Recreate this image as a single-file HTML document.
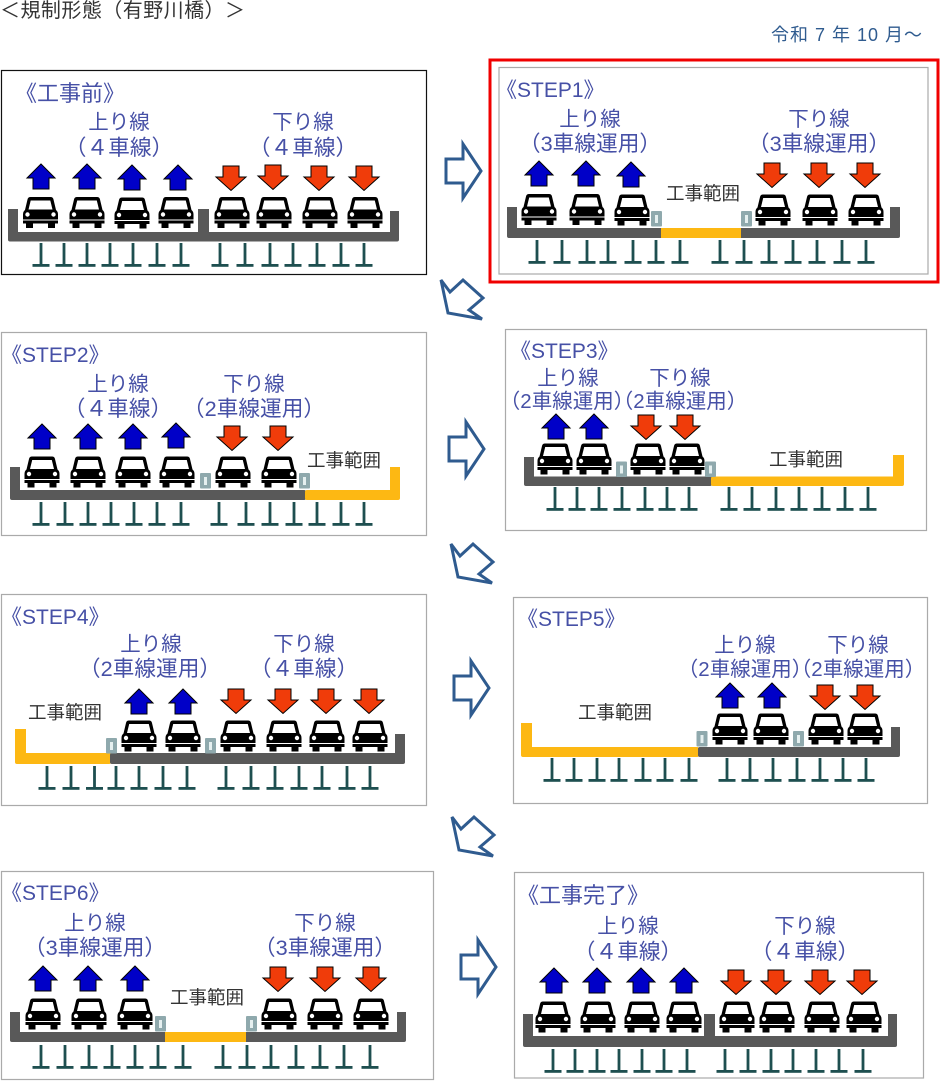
<!DOCTYPE html>
<html lang="ja">
<head>
<meta charset="utf-8">
<title>規制形態（有野川橋）</title>
<style>
html,body{margin:0;padding:0;background:#fff}
svg{display:block}
text{font-family:"Liberation Sans","Noto Sans CJK JP",sans-serif}
.t{fill:#4650a6;font-size:20.5px;text-anchor:middle}
.l{fill:#4650a6;font-size:21.7px;text-anchor:middle}
.h{fill:#4650a6;font-size:21px}
.hj{fill:#4650a6;font-size:22px}
.k{fill:#333;font-size:18.5px;text-anchor:middle}
.g{fill:#595959}
.y{fill:#fdb813}
.p{fill:#fff;stroke:#aaa;stroke-width:1.2}
.ba{fill:#fff;stroke:#2f5b8f;stroke-width:3;stroke-linejoin:miter}
</style>
</head>
<body>
<svg width="940" height="1081" viewBox="0 0 940 1081" xmlns="http://www.w3.org/2000/svg">
<defs>
<g id="c">
<path d="M-15.500-2.500 L-13-13 Q-12.500-15.500-10-15.500 L10-15.500 Q12.500-15.500 13-13 L15.500-2.500 Q17.500-1 17.500 2 L17.500 7 L-17.500 7 L-17.500 2 Q-17.500-1-15.500-2.500Z" fill="#000"/>
<path d="M-12-3 L-9.800-12 L9.800-12 L12-3Z" fill="#fff"/>
<circle cx="-13" cy="2" r="2.200" fill="#fff"/>
<circle cx="13" cy="2" r="2.200" fill="#fff"/>
<rect x="-17.500" y="8" width="35" height="3" fill="#000"/>
<rect x="-14.500" y="11" width="7" height="4.500" fill="#000"/>
<rect x="7.500" y="11" width="7" height="4.500" fill="#000"/>
</g>
<path id="u" d="M0-13 L14 1 L8 1 L8 12 L-8 12 L-8 1 L-14 1Z" fill="#0000c8" stroke="#000" stroke-width="1"/>
<path id="d" d="M-8-12 L8-12 L8-1 L15-1 L0 12.500 L-15-1 L-8-1Z" fill="#f03c0a" stroke="#000" stroke-width="1"/>
<g id="i"><rect x="-1.400" y="0" width="2.800" height="22" fill="#1e4f50"/><rect x="-8.500" y="21" width="17" height="2.800" fill="#1e4f50"/></g>
<g id="j"><rect x="-5.500" y="0" width="11" height="15.500" rx="1" fill="#8fa9ad"/><rect x="-1.500" y="4" width="3" height="8" fill="#e6f0f0"/></g>
<polygon id="ra" points="0,-12 17,-12 17,-27 35,0 17,27 17,12 0,12" class="ba"/>
<polygon id="da" points="0,0 9,12 22,0 42,18 28,30 41,39 7,33" class="ba"/>
</defs>

<rect width="940" height="1081" fill="#fff"/>
<text x="0" y="17" font-size="20" fill="#333" textLength="245" lengthAdjust="spacing">＜規制形態（有野川橋）＞</text>
<text x="771" y="41" font-size="18" fill="#2f5b8f" textLength="151" lengthAdjust="spacing">令和 7 年 10 月～</text>

<!-- 工事前 -->
<rect x="1.500" y="70.500" width="425" height="204" fill="#fff" stroke="#111" stroke-width="1.200"/>
<text class="hj" x="15" y="101">《工事前》</text>
<text class="t" x="119" y="129">上り線</text>
<text class="l" x="119" y="155">（４車線）</text>
<text class="t" x="303" y="129">下り線</text>
<text class="l" x="303" y="155">（４車線）</text>
<rect class="g" x="8" y="232" width="391" height="9.500" rx="2"/><rect class="g" x="8" y="209" width="10" height="30"/><rect class="g" x="198" y="209" width="11" height="25"/><rect class="g" x="390" y="211" width="9" height="28"/>
<use href="#u" x="41" y="177"/><use href="#u" x="87" y="177"/><use href="#u" x="132" y="178"/><use href="#u" x="178" y="178"/>
<use href="#d" x="231" y="178"/><use href="#d" x="273" y="177"/><use href="#d" x="319" y="178"/><use href="#d" x="364" y="178"/>
<use href="#c" x="40.500" y="212.500"/><use href="#c" x="87" y="212.500"/><use href="#c" x="132" y="213"/><use href="#c" x="176" y="212.500"/><use href="#c" x="232" y="212.500"/><use href="#c" x="274" y="212.500"/><use href="#c" x="320" y="212.500"/><use href="#c" x="365" y="212.500"/>
<use href="#i" x="41" y="243"/><use href="#i" x="64" y="243"/><use href="#i" x="87" y="243"/><use href="#i" x="110" y="243"/><use href="#i" x="133" y="243"/><use href="#i" x="157" y="243"/><use href="#i" x="181" y="243"/><use href="#i" x="220" y="243"/><use href="#i" x="245" y="243"/><use href="#i" x="270" y="243"/><use href="#i" x="293" y="243"/><use href="#i" x="317" y="243"/><use href="#i" x="341" y="243"/><use href="#i" x="364" y="243"/>

<!-- STEP1 -->
<rect x="490" y="60" width="448" height="222" fill="#fff" stroke="#f00000" stroke-width="3"/>
<rect class="p" x="499" y="67.500" width="429" height="206.500"/>
<text class="h" x="496" y="97">《STEP1》</text>
<text class="t" x="590" y="126">上り線</text>
<text class="l" x="590" y="151">（3車線運用）</text>
<text class="t" x="819" y="126">下り線</text>
<text class="l" x="819" y="151">（3車線運用）</text>
<text class="k" x="703" y="200">工事範囲</text>
<rect class="g" x="507" y="228" width="393" height="10" rx="2"/><rect class="g" x="507" y="207" width="10" height="29"/><rect class="g" x="890" y="207" width="10" height="29"/><rect class="y" x="661" y="228" width="80" height="10"/>
<use href="#j" x="656.500" y="211"/><use href="#j" x="746.500" y="211"/>
<use href="#u" x="539" y="174"/><use href="#u" x="586" y="174"/><use href="#u" x="631" y="175"/>
<use href="#d" x="772" y="175"/><use href="#d" x="819" y="175"/><use href="#d" x="865" y="175"/>
<use href="#c" x="539" y="209.500"/><use href="#c" x="587" y="209.500"/><use href="#c" x="632" y="210"/><use href="#c" x="773" y="210"/><use href="#c" x="820" y="210"/><use href="#c" x="866" y="210"/>
<use href="#i" x="537" y="240"/><use href="#i" x="562" y="240"/><use href="#i" x="587" y="240"/><use href="#i" x="608" y="240"/><use href="#i" x="633" y="240"/><use href="#i" x="656" y="240"/><use href="#i" x="680" y="240"/><use href="#i" x="720" y="240"/><use href="#i" x="744" y="240"/><use href="#i" x="769" y="240"/><use href="#i" x="793" y="240"/><use href="#i" x="817" y="240"/><use href="#i" x="842" y="240"/><use href="#i" x="866" y="240"/>

<!-- STEP2 -->
<rect class="p" x="1.500" y="332.500" width="425" height="203"/>
<text class="h" x="1" y="362">《STEP2》</text>
<text class="t" x="118" y="391">上り線</text>
<text class="l" x="118" y="416">（４車線）</text>
<text class="t" x="254" y="391">下り線</text>
<text class="l" x="254" y="416">（2車線運用）</text>
<text class="k" x="344" y="467">工事範囲</text>
<rect class="g" x="10" y="490" width="296" height="10" rx="2"/><rect class="g" x="10" y="467" width="10" height="31"/><rect class="y" x="305" y="490" width="95" height="10" rx="2"/><rect class="y" x="390" y="467" width="10" height="31"/>
<use href="#j" x="205.500" y="473"/><use href="#j" x="304.500" y="473"/>
<use href="#u" x="42" y="437"/><use href="#u" x="88" y="437"/><use href="#u" x="133" y="437"/><use href="#u" x="176" y="436"/>
<use href="#d" x="232" y="438"/><use href="#d" x="278" y="438"/>
<use href="#c" x="42" y="472"/><use href="#c" x="88" y="472"/><use href="#c" x="133" y="472"/><use href="#c" x="177" y="472"/><use href="#c" x="233" y="472"/><use href="#c" x="279" y="472"/>
<use href="#i" x="41" y="502"/><use href="#i" x="65" y="502"/><use href="#i" x="88" y="502"/><use href="#i" x="111" y="502"/><use href="#i" x="134" y="502"/><use href="#i" x="157" y="502"/><use href="#i" x="181" y="502"/><use href="#i" x="219" y="502"/><use href="#i" x="246" y="502"/><use href="#i" x="270" y="502"/><use href="#i" x="294" y="502"/><use href="#i" x="317" y="502"/><use href="#i" x="341" y="502"/><use href="#i" x="364" y="502"/>

<!-- STEP3 -->
<rect class="p" x="505.500" y="329.500" width="421" height="201"/>
<text class="h" x="510" y="358">《STEP3》</text>
<text class="t" x="568" y="385">上り線</text>
<text class="t" x="567" y="408">（2車線運用）</text>
<text class="t" x="680" y="385">下り線</text>
<text class="t" x="680" y="408">（2車線運用）</text>
<text class="k" x="806" y="466">工事範囲</text>
<rect class="g" x="524" y="476.500" width="188" height="9.500" rx="2"/><rect class="g" x="524" y="457" width="10" height="27"/><rect class="y" x="711" y="476.500" width="193" height="9.500" rx="2"/><rect class="y" x="893" y="455" width="11" height="29"/>
<use href="#j" x="621.500" y="461.500"/><use href="#j" x="710.500" y="461.500"/>
<use href="#u" x="556" y="427"/><use href="#u" x="594" y="427"/>
<use href="#d" x="646" y="427"/><use href="#d" x="685" y="427"/>
<use href="#c" x="555" y="459"/><use href="#c" x="594" y="459"/><use href="#c" x="648" y="459"/><use href="#c" x="687" y="459"/>
<use href="#i" x="555" y="487"/><use href="#i" x="577" y="487"/><use href="#i" x="599" y="487"/><use href="#i" x="622" y="487"/><use href="#i" x="645" y="487"/><use href="#i" x="667" y="487"/><use href="#i" x="689" y="487"/><use href="#i" x="729" y="487"/><use href="#i" x="752" y="487"/><use href="#i" x="776" y="487"/><use href="#i" x="799" y="487"/><use href="#i" x="822" y="487"/><use href="#i" x="845" y="487"/><use href="#i" x="868" y="487"/>

<!-- STEP4 -->
<rect class="p" x="1.500" y="594.500" width="425" height="211"/>
<text class="h" x="1" y="624">《STEP4》</text>
<text class="t" x="151" y="651">上り線</text>
<text class="l" x="150" y="676">（2車線運用）</text>
<text class="t" x="304" y="651">下り線</text>
<text class="l" x="304" y="676">（４車線）</text>
<text class="k" x="65" y="719">工事範囲</text>
<rect class="y" x="15" y="753" width="96" height="11" rx="2"/><rect class="y" x="15" y="729" width="11" height="33"/><rect class="g" x="110" y="753" width="295" height="11" rx="2"/><rect class="g" x="395" y="734" width="10" height="28"/>
<use href="#j" x="111.500" y="738"/><use href="#j" x="210.500" y="738"/>
<use href="#u" x="139" y="702"/><use href="#u" x="183" y="702"/>
<use href="#d" x="236" y="701"/><use href="#d" x="283" y="701"/><use href="#d" x="326" y="701"/><use href="#d" x="369" y="701"/>
<use href="#c" x="139" y="736"/><use href="#c" x="183" y="736"/><use href="#c" x="238" y="736"/><use href="#c" x="284" y="736"/><use href="#c" x="327" y="736"/><use href="#c" x="370" y="736"/>
<use href="#i" x="47" y="766"/><use href="#i" x="71" y="766"/><use href="#i" x="94.500" y="766"/><use href="#i" x="116" y="766"/><use href="#i" x="139" y="766"/><use href="#i" x="163" y="766"/><use href="#i" x="187" y="766"/><use href="#i" x="226" y="766"/><use href="#i" x="251" y="766"/><use href="#i" x="275" y="766"/><use href="#i" x="299" y="766"/><use href="#i" x="322" y="766"/><use href="#i" x="347" y="766"/><use href="#i" x="370" y="766"/>

<!-- STEP5 -->
<rect class="p" x="513.500" y="597.500" width="414" height="206"/>
<text class="h" x="517" y="626">《STEP5》</text>
<text class="t" x="745" y="652">上り線</text>
<text class="t" x="745" y="676">（2車線運用）</text>
<text class="t" x="858" y="652">下り線</text>
<text class="t" x="858" y="676">（2車線運用）</text>
<text class="k" x="615" y="719">工事範囲</text>
<rect class="y" x="521" y="747" width="178" height="10" rx="2"/><rect class="y" x="521" y="723" width="11" height="32"/><rect class="g" x="698" y="747" width="202" height="10" rx="2"/><rect class="g" x="891" y="727" width="9" height="28"/>
<use href="#j" x="702" y="731"/><use href="#j" x="798.500" y="731"/>
<use href="#u" x="730" y="696"/><use href="#u" x="772" y="696"/>
<use href="#d" x="825" y="697"/><use href="#d" x="865" y="697"/>
<use href="#c" x="730" y="729"/><use href="#c" x="771" y="729"/><use href="#c" x="826" y="729"/><use href="#c" x="865" y="729"/>
<use href="#i" x="552" y="758"/><use href="#i" x="574" y="758"/><use href="#i" x="597" y="758"/><use href="#i" x="619" y="758"/><use href="#i" x="643" y="758"/><use href="#i" x="665" y="758"/><use href="#i" x="689" y="758"/><use href="#i" x="727" y="758"/><use href="#i" x="750" y="758"/><use href="#i" x="773" y="758"/><use href="#i" x="797" y="758"/><use href="#i" x="820" y="758"/><use href="#i" x="843" y="758"/><use href="#i" x="866" y="758"/>

<!-- STEP6 -->
<rect class="p" x="1.500" y="871.500" width="432" height="208"/>
<text class="h" x="1" y="900">《STEP6》</text>
<text class="t" x="95" y="930">上り線</text>
<text class="l" x="95" y="955">（3車線運用）</text>
<text class="t" x="325" y="930">下り線</text>
<text class="l" x="325" y="955">（3車線運用）</text>
<text class="k" x="207" y="1004">工事範囲</text>
<rect class="g" x="10" y="1032" width="396" height="10" rx="2"/><rect class="g" x="10" y="1012" width="10" height="28"/><rect class="g" x="397" y="1012" width="9" height="28"/><rect class="y" x="165" y="1032" width="81" height="10"/>
<use href="#j" x="160.500" y="1016"/><use href="#j" x="251.500" y="1016"/>
<use href="#u" x="43" y="979"/><use href="#u" x="88" y="979"/><use href="#u" x="135" y="979"/>
<use href="#d" x="278" y="979"/><use href="#d" x="325" y="979"/><use href="#d" x="371" y="979"/>
<use href="#c" x="43" y="1014"/><use href="#c" x="89" y="1014"/><use href="#c" x="135" y="1014"/><use href="#c" x="279" y="1014"/><use href="#c" x="325" y="1014"/><use href="#c" x="371" y="1014"/>
<use href="#i" x="41" y="1045"/><use href="#i" x="65" y="1045"/><use href="#i" x="89" y="1045"/><use href="#i" x="112" y="1045"/><use href="#i" x="135" y="1045"/><use href="#i" x="158" y="1045"/><use href="#i" x="183" y="1045"/><use href="#i" x="223" y="1045"/><use href="#i" x="247" y="1045"/><use href="#i" x="271" y="1045"/><use href="#i" x="296" y="1045"/><use href="#i" x="320" y="1045"/><use href="#i" x="344" y="1045"/><use href="#i" x="370" y="1045"/>

<!-- 工事完了 -->
<rect class="p" x="514.500" y="872.500" width="409" height="205.500"/>
<text class="hj" x="517" y="903">《工事完了》</text>
<text class="t" x="628" y="933">上り線</text>
<text class="l" x="628" y="959">（４車線）</text>
<text class="t" x="805" y="933">下り線</text>
<text class="l" x="805" y="959">（４車線）</text>
<rect class="g" x="523" y="1036" width="374" height="11" rx="2"/><rect class="g" x="523" y="1014" width="10" height="31"/><rect class="g" x="704" y="1014" width="11" height="24"/><rect class="g" x="888" y="1014" width="9" height="31"/>
<use href="#u" x="554" y="981"/><use href="#u" x="597" y="981"/><use href="#u" x="641" y="981"/><use href="#u" x="684" y="981"/>
<use href="#d" x="736" y="982"/><use href="#d" x="776" y="982"/><use href="#d" x="820" y="982"/><use href="#d" x="862" y="982"/>
<use href="#c" x="553" y="1017"/><use href="#c" x="598" y="1017"/><use href="#c" x="642" y="1017"/><use href="#c" x="684" y="1017"/><use href="#c" x="737" y="1017"/><use href="#c" x="777" y="1017"/><use href="#c" x="822" y="1017"/><use href="#c" x="864" y="1017"/>
<use href="#i" x="553" y="1049"/><use href="#i" x="575" y="1049"/><use href="#i" x="597" y="1049"/><use href="#i" x="619" y="1049"/><use href="#i" x="642" y="1049"/><use href="#i" x="664" y="1049"/><use href="#i" x="687" y="1049"/><use href="#i" x="725" y="1049"/><use href="#i" x="748" y="1049"/><use href="#i" x="771" y="1049"/><use href="#i" x="793" y="1049"/><use href="#i" x="816" y="1049"/><use href="#i" x="839" y="1049"/><use href="#i" x="863" y="1049"/>

<!-- big arrows -->
<use href="#ra" x="446" y="171"/>
<use href="#ra" x="449" y="449"/>
<use href="#ra" x="454" y="688"/>
<use href="#ra" x="461" y="967"/>
<use href="#da" x="441" y="280"/>
<use href="#da" x="451" y="544"/>
<use href="#da" x="452" y="817"/>
</svg>
</body>
</html>
